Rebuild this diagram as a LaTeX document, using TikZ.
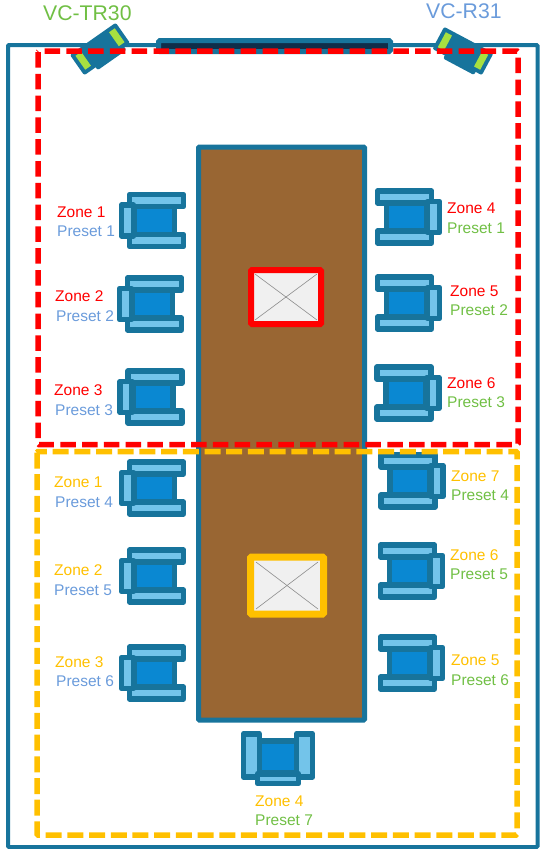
\documentclass[tikz,border=0pt]{standalone}
\usepackage{xcolor}
\usepackage{fontspec}
\setmainfont{Liberation Sans}
\definecolor{frameteal}{HTML}{17749C}
\definecolor{seatblue}{HTML}{0A88D2}
\definecolor{seatlight}{HTML}{73C4EA}
\definecolor{tablebrown}{HTML}{996633}
\definecolor{screendark}{HTML}{0F2E4A}
\definecolor{camgreen}{HTML}{A8E040}
\definecolor{zonered}{HTML}{FF0000}
\definecolor{zoneyellow}{HTML}{FFC000}
\definecolor{presetblue}{HTML}{6A9BDB}
\definecolor{presetgreen}{HTML}{70BF44}
\tikzset{
	chair/.pic={
		\draw[frameteal,line width=5.6pt,fill=seatblue] (-17.5,-14) rectangle (22.5,14);
		\draw[frameteal,line width=5.6pt,line join=round,fill=seatlight] (-22.5,-26) rectangle (31.5,-14);
		\draw[frameteal,line width=5.6pt,line join=round,fill=seatlight] (-22.5,14) rectangle (31.5,26);
		\draw[frameteal,line width=5.6pt,line join=round,fill=seatlight] (-30.5,-15.5) rectangle (-18.5,15.5);
	},
	camera/.pic={
		\fill[frameteal,rounded corners=2pt] (-28,-12.5) rectangle (28,12.5);
		\fill[frameteal,rounded corners=2pt] (-14,0) rectangle (21,16);
		\fill[camgreen] (-24,-8.5) rectangle (-17,8.5);
		\fill[camgreen] (17,-8.5) rectangle (24,8.5);
	}
}
\begin{document}
\begin{tikzpicture}[x=1pt,y=-1pt]
	\tikzstyle{zonetext}=[anchor=west,inner sep=0pt,font=\fontsize{15.5}{18}\selectfont]
	\tikzstyle{camtext}=[anchor=west,inner sep=0pt,font=\fontsize{21.2}{24}\selectfont]
	\tikzstyle{marker}=[line width=6pt,rounded corners=1pt,fill=black!6]
	\tikzstyle{crossline}=[black!45,line width=.6pt]
	\tikzstyle{reddash}=[zonered,line width=5.5pt,rounded corners=1pt,dash pattern=on 15.5pt off 6.3pt]
	\tikzstyle{yellowdash}=[zoneyellow,line width=5.5pt,rounded corners=1pt,dash pattern=on 16pt off 5.7pt]
	\useasboundingbox (0,0) rectangle (539,849);

	% room and screen
	\draw[frameteal,line width=4pt,rounded corners=1pt] (8,45) rectangle (537.5,847);
	\draw[frameteal,line width=5pt,rounded corners=1.5pt,fill=screendark] (158.5,40.5) rectangle (390.5,51.5);

	% cameras
	\pic[rotate=35] at (100,49) {camera};
	\pic[rotate=-28] at (463,51) {camera};
	\node[camtext,text=presetgreen](camleft) at (43,13) {VC-TR30};
	\node[camtext,text=presetblue](camright) at (426,11) {VC-R31};

	% table
	\draw[frameteal,line width=5pt,rounded corners=1pt,fill=tablebrown] (198.5,147) rectangle (364.5,720);
	\draw[marker,draw=zonered] (251,270) rectangle (321,324);
	\draw[crossline] (255,274) -- (317,320);
	\draw[crossline] (317,274) -- (255,320);
	\draw[marker,draw=zoneyellow,line width=7pt] (250.5,557) rectangle (323.5,614);
	\draw[crossline] (256,562) -- (318,609);
	\draw[crossline] (318,562) -- (256,609);

	% chairs, left side
	\pic at (152,220.5) {chair};
	\pic at (150,304) {chair};
	\pic at (150.5,397) {chair};
	\pic at (152,488) {chair};
	\pic at (152,576) {chair};
	\pic at (152,673) {chair};

	% chairs, right side
	\pic[xscale=-1] at (409,217) {chair};
	\pic[xscale=-1] at (409,303) {chair};
	\pic[xscale=-1] at (408.5,393) {chair};
	\pic[xscale=-1] at (412.5,481) {chair};
	\pic[xscale=-1] at (412,571) {chair};
	\pic[xscale=-1] at (412,663) {chair};

	% chair at the end of the table
	\pic[rotate=90,xscale=.8,yscale=1.33] at (278,759) {chair};

	% zone areas
	\draw[yellowdash] (37,451.5) rectangle (517,835);
	\draw[reddash] (38,51) rectangle (518,444.5);

	% labels, left side
	\node[zonetext,text=zonered](zl1) at (57,212) {Zone 1};
	\node[zonetext,text=presetblue](pl1) at (57,231.5) {Preset 1};
	\node[zonetext,text=zonered](zl2) at (55,296) {Zone 2};
	\node[zonetext,text=presetblue](pl2) at (56,316) {Preset 2};
	\node[zonetext,text=zonered](zl3) at (54,390.5) {Zone 3};
	\node[zonetext,text=presetblue](pl3) at (55,410) {Preset 3};
	\node[zonetext,text=zoneyellow](zl4) at (54,482.5) {Zone 1};
	\node[zonetext,text=presetblue](pl4) at (55,502) {Preset 4};
	\node[zonetext,text=zoneyellow](zl5) at (54,570) {Zone 2};
	\node[zonetext,text=presetblue](pl5) at (54,590) {Preset 5};
	\node[zonetext,text=zoneyellow](zl6) at (55,662) {Zone 3};
	\node[zonetext,text=presetblue](pl6) at (56,681) {Preset 6};

	% labels, right side
	\node[zonetext,text=zonered](zr1) at (447,208) {Zone 4};
	\node[zonetext,text=presetgreen](pr1) at (447,228) {Preset 1};
	\node[zonetext,text=zonered](zr2) at (450,291) {Zone 5};
	\node[zonetext,text=presetgreen](pr2) at (450,310) {Preset 2};
	\node[zonetext,text=zonered](zr3) at (447,383) {Zone 6};
	\node[zonetext,text=presetgreen](pr3) at (447,402) {Preset 3};
	\node[zonetext,text=zoneyellow](zr4) at (451,476) {Zone 7};
	\node[zonetext,text=presetgreen](pr4) at (451,495) {Preset 4};
	\node[zonetext,text=zoneyellow](zr5) at (450,555) {Zone 6};
	\node[zonetext,text=presetgreen](pr5) at (450,574) {Preset 5};
	\node[zonetext,text=zoneyellow](zr6) at (451,660) {Zone 5};
	\node[zonetext,text=presetgreen](pr6) at (451,680) {Preset 6};

	% labels, bottom
	\node[zonetext,text=zoneyellow](zb) at (255,801) {Zone 4};
	\node[zonetext,text=presetgreen](pb) at (255,820) {Preset 7};
\end{tikzpicture}
\end{document}
